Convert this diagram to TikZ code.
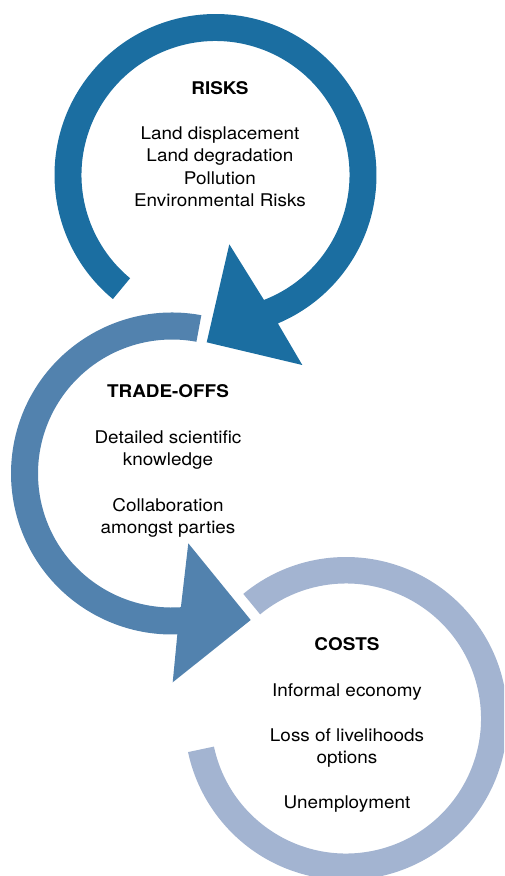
\documentclass[tikz,border=0pt]{standalone}
\usepackage{fontspec}
\setmainfont{TeX Gyre Heros}[FakeStretch=1.08]
\usetikzlibrary{calc}
\definecolor{ringA}{RGB}{27,110,161}
\definecolor{ringB}{RGB}{82,130,174}
\definecolor{ringC}{RGB}{163,180,209}
\tikzset{
  lbl/.style={anchor=base, inner sep=0pt, font=\fontsize{17.5}{21}\selectfont, text=black},
  ttl/.style={lbl, font=\fontsize{17.5}{21}\selectfont\bfseries},
}
\begin{document}
\begin{tikzpicture}[x=1pt,y=1pt]
\useasboundingbox (0,0) rectangle (504,-876);
\clip (0,0) rectangle (504,-876);
% centres
\coordinate (c1) at (215.5,-175);
\coordinate (c2) at (172,-473.5);
\coordinate (c3) at (346,-718.5);
% arrowhead points
\coordinate (h1a) at (302.3,-365);
\coordinate (h1t) at (206.7,-342.3);
\coordinate (h1b) at (229.3,-244.3);
\coordinate (h2a) at (172.7,-682.3);
\coordinate (h2t) at (250.7,-620);
\coordinate (h2b) at (188.3,-543.3);
% ring 1 (RISKS)
\fill[ringA] ($(c1)+(230.4:161)$) arc[start angle=230.4, end angle=-67.2, radius=161]
  -- (h1a) -- (h1t) -- (h1b)
  -- ($(c1)+(-68.8:134)$) arc[start angle=-68.8, end angle=230.4, radius=134] -- cycle;
% ring 2 (TRADE-OFFS)
\fill[ringB] ($(c2)+(79.5:161)$) arc[start angle=79.5, end angle=271.9, radius=161]
  -- (h2a) -- (h2t) -- (h2b)
  -- ($(c2)+(273.8:134)$) arc[start angle=273.8, end angle=79.5, radius=134] -- cycle;
% ring 3 (COSTS)
\fill[ringC] ($(c3)+(129.5:161.5)$) arc[start angle=129.5, end angle=-168, radius=161.5]
  -- ($(c3)+(-168:135)$) arc[start angle=-168, end angle=129.5, radius=135] -- cycle;
% texts
\node[ttl] (r0) at (220,-94) {RISKS};
\node[lbl] (r1) at (220,-139.5) {Land displacement};
\node[lbl] (r2) at (220,-161.8) {Land degradation};
\node[lbl] (r3) at (220,-184.1) {Pollution};
\node[lbl] (r4) at (220,-206.4) {Environmental Risks};
\node[ttl] (t0) at (168,-397.7) {TRADE-OFFS};
\node[lbl] (t1) at (168,-443.5) {Detailed scientific};
\node[lbl] (t2) at (168,-465.3) {knowledge};
\node[lbl] (t3) at (168,-511.5) {Collaboration};
\node[lbl] (t4) at (168,-533.3) {amongst parties};
\node[ttl] (k0) at (347,-650) {COSTS};
\node[lbl] (k1) at (347,-696.7) {Informal economy};
\node[lbl] (k2) at (347,-741.7) {Loss of livelihoods};
\node[lbl] (k3) at (347,-763.5) {options};
\node[lbl] (k4) at (347,-808.3) {Unemployment};
\end{tikzpicture}
\end{document}
